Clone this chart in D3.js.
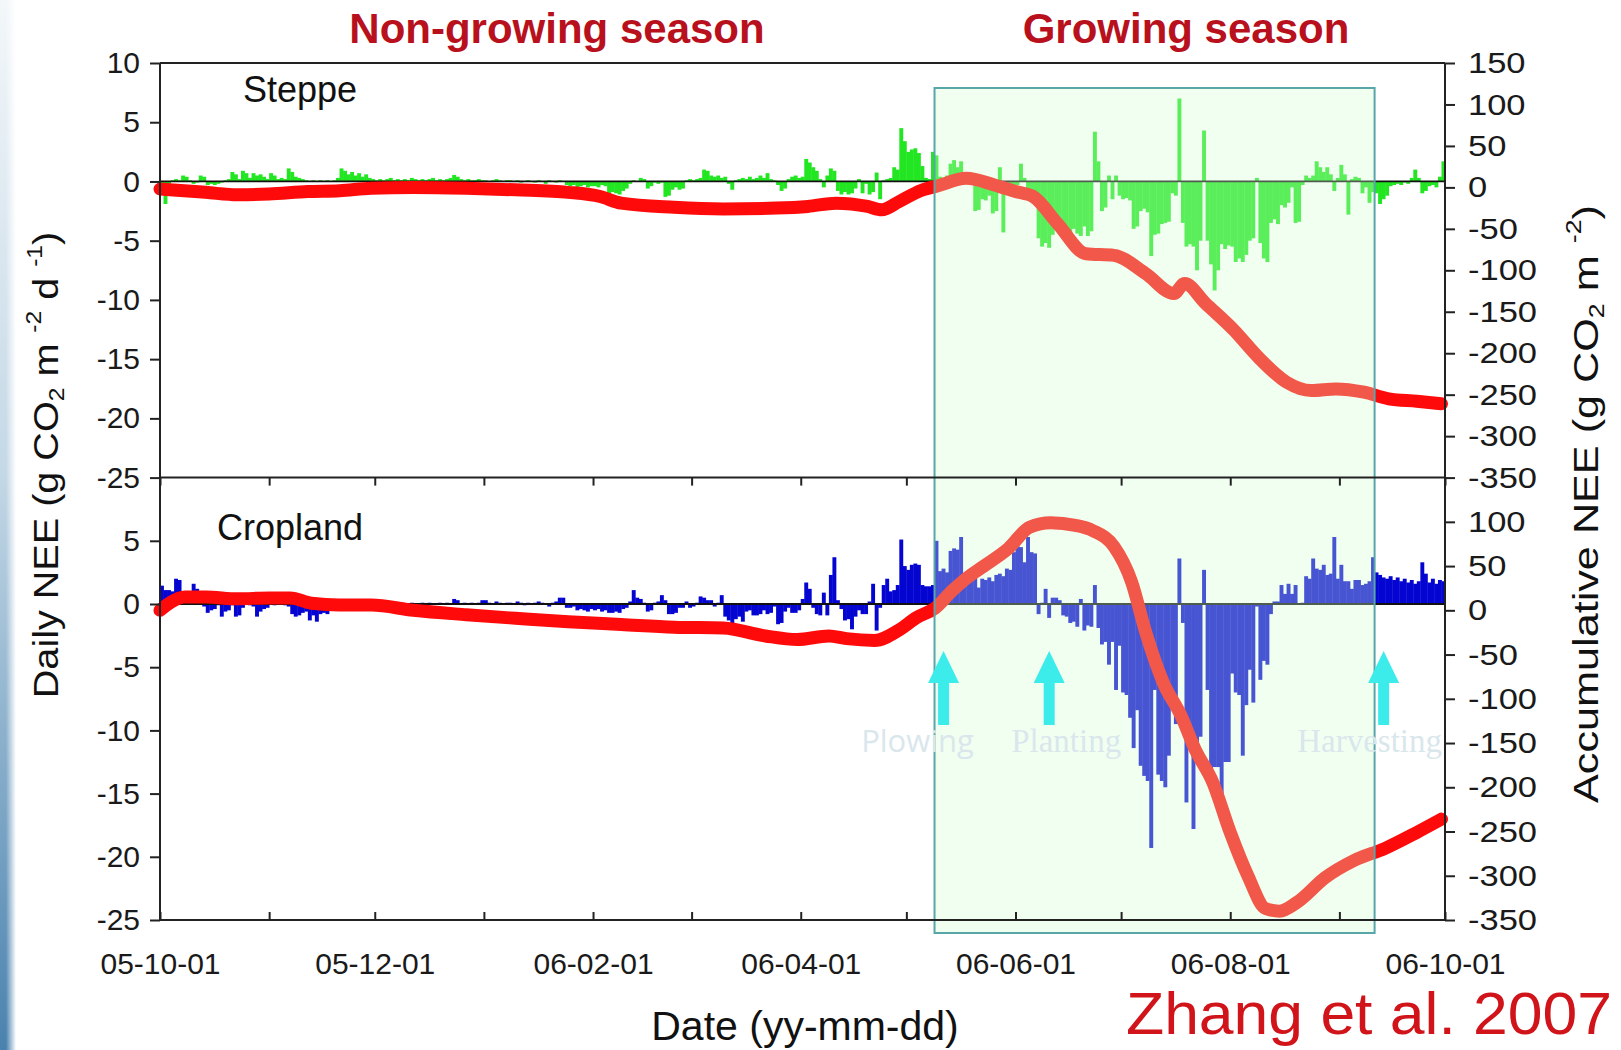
<!DOCTYPE html>
<html>
<head>
<meta charset="utf-8">
<script src="https://cdn.jsdelivr.net/npm/d3@7"></script>
<style>
  html, body { margin: 0; padding: 0; background: #fff; overflow: hidden; }
  svg { display: block; }
</style>
</head>
<body>
<svg id="chart" width="1621" height="1050"></svg>
<script>
// ---------------- data ----------------
const seasonTitles = ["Non-growing season", "Growing season"];
const panelNames = ["Steppe", "Cropland"];
const monthStarts = ["2005-10-01", "2005-11-01", "2005-12-01", "2006-01-01", "2006-02-01", "2006-03-01",
                     "2006-04-01", "2006-05-01", "2006-06-01", "2006-07-01", "2006-08-01", "2006-09-01"];

// Daily NEE, steppe site (g CO2 m-2 d-1), one row per month
const steppeDaily = [
  [-0.8,-1.9,-1.2,0.1,0.2,0.1,0.5,0.4,0.1,-0.2, -0.1,0.5,0.4,-0.3,-0.2,-0.3,-0.2,-0.1,0.1,0.2, 0.8,0.6,0.2,0.9,0.7,0.3,0.7,0.5,0.6,0.4, 0.2],
  [0.7,0.5,0.2,0.3,0.2,1.1,0.8,0.4,0.3,0.2, 0.1,0.0,0.1,0.0,0.1,0.0,0.1,0.0,0.1,0.3, 1.1,0.9,0.6,0.8,0.5,0.7,0.4,0.6,0.3,0.2],
  [0.1,0.2,0.1,0.2,0.3,0.1,0.2,0.1,0.2,0.1, 0.3,0.2,0.1,0.2,0.1,0.2,0.3,0.1,0.2,0.1, 0.2,0.3,0.55,0.4,0.2,0.1,0.2,0.1,0.1,0.2, 0.1],
  [0.1,0.0,0.1,0.2,0.1,0.0,0.1,0.1,0.0,0.1, -0.1,0.0,0.1,0.0,-0.1,0.1,0.0,-0.2,0.1,0.0, -0.1,0.1,0.0,-0.3,-0.4,-0.3,-0.5,-0.4,-0.3,-0.5, -0.4],
  [-0.4,-0.5,-0.3,-0.4,-1.1,-0.9,-1.0,-1.1,-0.8,-0.6, -0.2,0.1,0.0,0.3,0.2,-0.6,-0.4,-0.1,-0.2,-0.1, -1.3,-1.2,-0.7,-0.5,-0.7,-0.6,0.1,0.2],
  [0.1,0.2,0.3,1.0,0.9,0.5,0.4,0.5,0.3,0.4, -0.2,-0.7,0.1,0.2,0.3,0.2,0.4,0.2,0.3,0.5, 0.3,0.7,0.2,0.1,-0.3,-0.8,-0.6,0.2,0.4,0.5, 0.3],
  [0.4,1.9,1.6,1.2,0.9,0.2,-0.5,0.5,1.1,0.9, -0.8,-1.1,-0.9,-1.1,-1.0,-0.6,0.2,-1.0,-0.2,-1.1, -0.9,0.75,-1.5,0.1,0.2,0.3,1.2,1.0,4.5,3.4],
  [2.5,2.7,2.8,2.4,1.3,0.3,0.2,2.5,2.2,0.4, 0.3,0.5,1.5,1.8,1.2,1.7,0.6,0.5,0.3,-2.5, -2.4,-1.5,-1.6,-1.2,-2.7,-2.5,1.2,-4.3,-0.6,-0.5, -0.4],
  [-0.3,1.5,0.3,-1.0,-0.8,-1.2,-4.8,-5.5,-5.2,-5.6, -4.5,-3.5,-3.2,-3.8,-4.2,-4.5,-4.0,-4.4,-4.6,-3.8, -4.6,-4.2,4.2,1.7,-2.5,-2.2,0.5,-1.5,0.5,-1.2],
  [-1.5,-1.4,-1.6,-4.0,-3.8,-2.5,-2.3,-2.6,-6.3,-4.5, -4.4,-3.6,-3.5,-3.4,-1.0,-1.2,7.0,-3.5,-5.5,-5.3, -5.5,-7.5,-5.0,4.3,-5.0,-7.0,-9.2,-7.5,-5.3,-5.7, -5.4],
  [-5.5,-6.8,-6.5,-6.8,-6.2,-5.0,-4.8,0.3,-5.2,-6.5, -6.8,-3.5,-3.2,-3.6,-2.0,-2.2,-1.8,-0.5,-3.5,-3.4, -0.3,0.5,0.3,0.5,1.7,1.2,0.8,1.2,0.6,-0.8, 0.3],
  [1.4,0.6,-2.8,0.2,0.4,0.3,-1.0,-0.5,-1.8,-0.9, -1.0,-1.9,-1.5,-1.2,-0.4,-0.3,-0.2,-0.3,-0.1,-0.2, 0.3,1.0,0.3,-1.0,-0.8,-0.4,-0.3,-0.5,0.4,1.7]
];

// Daily NEE, cropland site (g CO2 m-2 d-1), one row per month
const croplandDaily = [
  [1.45,1.1,1.1,1.0,2.0,1.9,0.3,0.2,0.3,1.6, 1.2,0.1,-0.2,-0.7,-0.5,-0.4,-0.1,-1.0,-0.6,-0.5, -0.1,-1.0,-0.9,-0.3,0.0,-0.1,-0.2,-1.0,-0.6,-0.4, -0.3],
  [0.0,-0.1,0.1,0.0,-0.1,-0.2,-0.8,-1.0,-0.9,-0.7, -0.6,-1.3,-0.9,-1.4,-0.8,-0.7,-0.8,-0.4,-0.3,0.0, 0.1,0.0,0.1,0.0,-0.1,0.0,0.1,0.0,0.1,0.0],
  [0.0,0.1,0.0,0.1,0.0,-0.1,0.0,0.1,0.0,0.0, 0.1,0.0,0.0,0.1,0.0,0.1,0.0,0.0,0.1,0.0, 0.1,0.0,0.4,0.3,0.0,0.1,0.0,0.1,0.0,0.1, 0.3],
  [0.3,0.1,0.0,0.2,0.1,0.0,0.1,0.1,0.0,0.2, 0.1,-0.1,0.1,0.0,0.1,0.2,0.1,0.0,-0.2,0.1, 0.2,0.5,0.5,-0.3,-0.3,-0.2,-0.5,-0.4,-0.5,-0.6, -0.4],
  [-0.5,-0.4,-0.6,-0.5,-0.7,-0.7,-0.6,-0.7,-0.4,-0.3, 0.2,1.1,0.5,0.4,0.1,-0.6,-0.5,0.1,0.2,0.7, 0.3,-0.8,-0.8,-0.7,-0.3,-0.3,0.2,-0.3],
  [-0.2,0.1,0.6,0.5,0.3,0.3,-0.2,0.1,0.7,-1.0, -1.3,-1.6,-1.2,-1.0,-1.4,-0.6,-0.5,-0.9,-0.9,-0.8, -0.5,-0.8,-0.7,-0.2,-1.6,-1.5,-0.6,-0.3,-0.7,-0.7, -0.5],
  [0.4,1.7,1.2,-0.3,-0.8,-0.9,0.9,-0.9,2.3,3.7, 0.3,-0.4,-1.3,-1.2,-2.0,-1.0,-0.5,-0.8,-0.8,0.2, 1.6,-2.1,-0.3,1.5,2.0,1.0,1.1,1.5,5.1,3.0],
  [2.7,3.1,3.2,3.1,1.5,1.4,1.4,1.5,5.0,2.6, 2.8,2.5,4.2,4.4,4.3,5.3,2.2,2.0,2.3,2.7, 1.3,2.0,1.9,2.1,1.8,2.3,2.4,2.2,2.8,2.7, 4.1],
  [4.6,4.5,3.3,5.3,4.1,4.0,-0.8,0.1,1.2,-1.1, 0.5,0.5,0.3,-0.9,-1.0,-1.5,-1.4,-1.8,0.4,-2.1, -1.7,-1.8,1.5,-1.9,-3.2,-3.0,-4.8,-3.0,-6.8,-3.3],
  [-7.0,-7.2,-9.0,-11.4,-8.4,-12.8,-13.6,-14.0,-19.3,-6.8, -13.5,-14.0,-14.5,-12.0,-8.0,-9.5,3.6,-1.5,-15.7,-11.0, -17.8,-11.6,-10.5,2.7,-6.8,-13.0,-12.9,-12.9,-15.2,-12.5, -12.5],
  [-5.5,-7.0,-7.2,-12.0,-8.0,-5.2,-7.8,-0.2,-6.0,-4.5, -4.8,-0.8,0.2,0.2,1.5,0.8,1.6,0.8,1.5,0.0, 0.1,2.2,2.0,3.6,2.8,2.7,3.1,2.3,2.4,5.3, 2.0],
  [3.1,1.8,1.8,1.2,1.9,1.9,1.5,1.6,1.8,3.7, 2.5,2.3,2.1,2.0,2.2,1.9,2.1,1.8,2.0,1.7, 1.9,1.6,1.8,3.3,2.4,1.7,2.0,1.6,1.9,1.8]
];

// Accumulative NEE (g CO2 m-2), sampled by day number since 2005-10-01
const steppeAccumDay = [0,13,22,31,42,51,60,72,87,101, 116,125,131,146,160,175,184,192,201,205,
                        210,216,221,229,237,243,248,255,263,271, 280,288,291,297,305,312,320,327,334,342, 349,357,364];
const steppeAccum    = [-2,-6,-9,-8,-5,-4,-1,0,-1,-3, -6,-11,-19,-24,-26,-25,-23,-19,-23,-27,
                        -17,-4,2,11,3,-5,-11,-44,-80,-82, -104,-128,-116,-140,-172,-205,-235,-245,-243,-247, -255,-258,-261];
const croplandAccumDay = [0,3,7,13,22,31,37,43,51,60, 72,87,101,116,131,146,160,172,181,190,
                          195,203,210,215,220,225,229,234,241,247, 253,260,265,271,276,280,285,290,294,299,
                          304,309,314,318,323,331,339,348,357,364];
const croplandAccum    = [0,9,15,15,13,14,14,8,6,6, 0,-5,-9,-13,-16,-19,-20,-29,-33,-29,
                          -32,-34,-22,-8,2,22,36,50,70,94, 99,96,90,72,32,-25,-82,-119,-157,-194,
                          -251,-300,-337,-340,-330,-302,-283,-269,-251,-236];

const dailyTicksUpper = [10, 5, 0, -5, -10, -15, -20, -25];
const dailyTicksLower = [5, 0, -5, -10, -15, -20, -25];
const accumTicksUpper = [150, 100, 50, 0, -50, -100, -150, -200, -250, -300, -350];
const accumTicksLower = [100, 50, 0, -50, -100, -150, -200, -250, -300, -350];
const dateTickLabels = ["2005-10-01", "2005-12-01", "2006-02-01", "2006-04-01", "2006-06-01", "2006-08-01", "2006-10-01"];
const growingSeason = ["2006-05-09", "2006-09-11"];
const eventNames = ["Plowing", "Planting", "Harvesting"];
const eventDates = ["2006-05-11", "2006-06-10", "2006-09-13"];

// ---------------- layout ----------------
const X0 = 160, X1 = 1445;          // plot left / right
const YT = 63, YM = 477.6, YB = 920; // top, panel split, bottom
const SANS = "Liberation Sans, Arial, Helvetica, sans-serif";

const svg = d3.select("#chart");
const parse = d3.timeParse("%Y-%m-%d");
const t0 = parse("2005-10-01"), t1 = parse("2006-10-01");
const x = d3.scaleTime().domain([t0, t1]).range([X0, X1]);

// slide edge strip on the far left
const defs = svg.append("defs");
const edge = defs.append("linearGradient").attr("id", "edgeV").attr("x1", 0).attr("y1", 0).attr("x2", 0).attr("y2", 1);
edge.append("stop").attr("offset", "0%").attr("stop-color", "#f3f7fa");
edge.append("stop").attr("offset", "45%").attr("stop-color", "#c4d8e6");
edge.append("stop").attr("offset", "100%").attr("stop-color", "#4a82ae");
const fade = defs.append("linearGradient").attr("id", "edgeH").attr("x1", 0).attr("y1", 0).attr("x2", 1).attr("y2", 0);
fade.append("stop").attr("offset", "0%").attr("stop-color", "#fff").attr("stop-opacity", 0);
fade.append("stop").attr("offset", "100%").attr("stop-color", "#fff").attr("stop-opacity", 1);
svg.append("rect").attr("x", 0).attr("y", 0).attr("width", 16).attr("height", 1050).attr("fill", "url(#edgeV)");
svg.append("rect").attr("x", 6).attr("y", 0).attr("width", 10).attr("height", 1050).attr("fill", "url(#edgeH)");

const panels = [
  { name: panelNames[0], daily: steppeDaily, accDay: steppeAccumDay, acc: steppeAccum,
    top: YT, bottom: YM, bar: "#22e622", lticks: dailyTicksUpper, rticks: accumTicksUpper },
  { name: panelNames[1], daily: croplandDaily, accDay: croplandAccumDay, acc: croplandAccum,
    top: YM, bottom: YB, bar: "#0505d2", lticks: dailyTicksLower, rticks: accumTicksLower }
];

panels.forEach(p => {
  p.yL = d3.scaleLinear().domain([-25, 10]).range([p.bottom, p.top]);
  p.yR = d3.scaleLinear().domain([-350, 150]).range([p.bottom, p.top]);
  p.rows = [];
  p.daily.forEach((month, m) => {
    const ms = parse(monthStarts[m]);
    month.forEach((v, i) => p.rows.push({ date: d3.timeDay.offset(ms, i), v }));
  });
  p.accRows = p.accDay.map((d, i) => ({ date: d3.timeDay.offset(t0, d), v: p.acc[i] }));
});

const dataLayer = svg.append("g");
panels.forEach(p => {
  const g = dataLayer.append("g");
  g.selectAll("rect").data(p.rows).join("rect")
    .attr("x", d => x(d.date))
    .attr("width", d => x(d3.timeDay.offset(d.date, 1)) - x(d.date) + 0.4)
    .attr("y", d => Math.min(p.yL(d.v), p.yL(0)))
    .attr("height", d => Math.abs(p.yL(d.v) - p.yL(0)))
    .attr("fill", p.bar);
  g.append("line")
    .attr("x1", X0).attr("x2", X1).attr("y1", p.yL(0)).attr("y2", p.yL(0))
    .attr("stroke", "#111").attr("stroke-width", 1.8);
  const line = d3.line().x(d => x(d.date)).y(d => p.yR(d.v)).curve(d3.curveMonotoneX);
  g.append("path").datum(p.accRows).attr("d", line)
    .attr("fill", "none").attr("stroke", "#ff0a0a").attr("stroke-width", 13)
    .attr("stroke-linecap", "round").attr("stroke-linejoin", "round");
});

// growing-season window (translucent so the data shows through)
const gs0 = parse(growingSeason[0]), gs1 = parse(growingSeason[1]);
svg.append("rect")
  .attr("x", x(gs0)).attr("y", 88)
  .attr("width", x(gs1) - x(gs0)).attr("height", 933 - 88)
  .attr("fill", "#d5ffd5").attr("fill-opacity", 0.32)
  .attr("stroke", "#58a6a8").attr("stroke-width", 2);

// frame lines
const frame = svg.append("g").attr("stroke", "#222").attr("stroke-width", 2);
[YT, YM, YB].forEach(y => frame.append("line").attr("x1", X0).attr("x2", X1).attr("y1", y).attr("y2", y));
[X0, X1].forEach(xx => frame.append("line").attr("x1", xx).attr("x2", xx).attr("y1", YT).attr("y2", YB));

function styleAxis(g, size) {
  g.select(".domain").remove();
  g.attr("font-family", SANS).attr("font-size", size);
  g.selectAll(".tick line").attr("stroke", "#222").attr("stroke-width", 2);
  g.selectAll(".tick text").attr("fill", "#1a1a1a");
}

panels.forEach(p => {
  svg.append("g").attr("transform", `translate(${X0},0)`)
    .call(d3.axisLeft(p.yL).tickValues(p.lticks).tickSize(10).tickPadding(10).tickFormat(d => String(d)))
    .call(g => styleAxis(g, 30));
  svg.append("g").attr("transform", `translate(${X1},0)`)
    .call(d3.axisRight(p.yR).tickValues(p.rticks).tickSize(10).tickPadding(13).tickFormat(d => String(d)))
    .call(g => styleAxis(g, 30))
    .call(g => g.selectAll(".tick text")
      .attr("transform", function () { return `translate(${this.getAttribute("x")},0) scale(1.15,1)`; })
      .attr("x", 0));
});

const majorSet = new Set(dateTickLabels.map(s => +parse(s)));
const fmt = d3.timeFormat("%y-%m-%d");
svg.append("g").attr("transform", `translate(0,${YB})`)
  .call(d3.axisBottom(x).ticks(d3.timeMonth.every(1)).tickSizeInner(-8).tickSizeOuter(0).tickPadding(33)
    .tickFormat(d => majorSet.has(+d) ? fmt(d) : ""))
  .call(g => styleAxis(g, 30));
svg.append("g").attr("transform", `translate(0,${YM})`)
  .call(d3.axisTop(x).ticks(d3.timeMonth.every(1)).tickSizeInner(-8).tickSizeOuter(0).tickFormat(""))
  .call(g => styleAxis(g, 30));

// management events in the cropland panel
const yArrowTip = 651;
eventDates.forEach((s, i) => {
  const cx = x(parse(s)) + 2;
  svg.append("path")
    .attr("d", `M${cx},${yArrowTip} L${cx + 15.5},${yArrowTip + 32} L${cx + 5.5},${yArrowTip + 32} L${cx + 5.5},${yArrowTip + 74}
                L${cx - 5.5},${yArrowTip + 74} L${cx - 5.5},${yArrowTip + 32} L${cx - 15.5},${yArrowTip + 32} Z`)
    .attr("fill", "#3cecea");
});
const eventLabelShift = [-24, 19, -12];
eventNames.forEach((n, i) => {
  svg.append("text")
    .attr("x", x(parse(eventDates[i])) + eventLabelShift[i]).attr("y", 752)
    .attr("text-anchor", "middle")
    .attr("font-family", i === 0 ? "Open Sans, Lato, sans-serif" : "Liberation Serif, Times New Roman, serif")
    .attr("font-size", i === 0 ? 31 : 33)
    .attr("fill", "#d9e7ec")
    .text(n);
});

// season headings
svg.append("text").attr("x", 557).attr("y", 43).attr("text-anchor", "middle")
  .attr("font-family", SANS).attr("font-weight", "bold").attr("font-size", 42).attr("fill", "#b8101c")
  .text(seasonTitles[0]);
svg.append("text").attr("x", 1186).attr("y", 43).attr("text-anchor", "middle")
  .attr("font-family", SANS).attr("font-weight", "bold").attr("font-size", 42).attr("fill", "#b8101c")
  .text(seasonTitles[1]);

// panel names
svg.append("text").attr("x", 243).attr("y", 102).attr("font-family", SANS).attr("font-size", 36).attr("fill", "#111").text(panelNames[0]);
svg.append("text").attr("x", 217).attr("y", 540).attr("font-family", SANS).attr("font-size", 36).attr("fill", "#111").text(panelNames[1]);

// axis titles with sub/superscripts
function richLabel(sel, parts) {
  parts.forEach(pt => {
    const t = sel.append("tspan").text(pt.t);
    if (pt.sub) t.attr("font-size", "0.62em").attr("dy", "0.28em");
    if (pt.sup) t.attr("font-size", "0.62em").attr("dy", "-0.75em");
    if (pt.reset) t.attr("dy", pt.reset);
  });
}
const leftTitle = svg.append("text")
  .attr("transform", "translate(58,465) rotate(-90) scale(1.1,1)")
  .attr("text-anchor", "middle").attr("font-family", SANS).attr("font-size", 36).attr("fill", "#111");
richLabel(leftTitle, [
  { t: "Daily NEE (g CO" }, { t: "2", sub: true }, { t: " m ", reset: "-0.17em" },
  { t: "-2", sup: true }, { t: " d ", reset: "0.47em" }, { t: "-1", sup: true }, { t: ")", reset: "0.47em" }
]);
const rightTitle = svg.append("text")
  .attr("transform", "translate(1598,504) rotate(-90) scale(1.2,1)")
  .attr("text-anchor", "middle").attr("font-family", SANS).attr("font-size", 36).attr("fill", "#111");
richLabel(rightTitle, [
  { t: "Accumulative NEE (g CO" }, { t: "2", sub: true }, { t: " m ", reset: "-0.17em" },
  { t: "-2", sup: true }, { t: ")", reset: "0.47em" }
]);

svg.append("text").attr("x", 805).attr("y", 1040).attr("text-anchor", "middle")
  .attr("font-family", SANS).attr("font-size", 41).attr("fill", "#111").text("Date (yy-mm-dd)");

svg.append("text").attr("x", 1126).attr("y", 1034)
  .attr("font-family", SANS).attr("font-size", 60).attr("fill", "#d0141a")
  .attr("textLength", 486).attr("lengthAdjust", "spacingAndGlyphs")
  .text("Zhang et al. 2007");
</script>
</body>
</html>
